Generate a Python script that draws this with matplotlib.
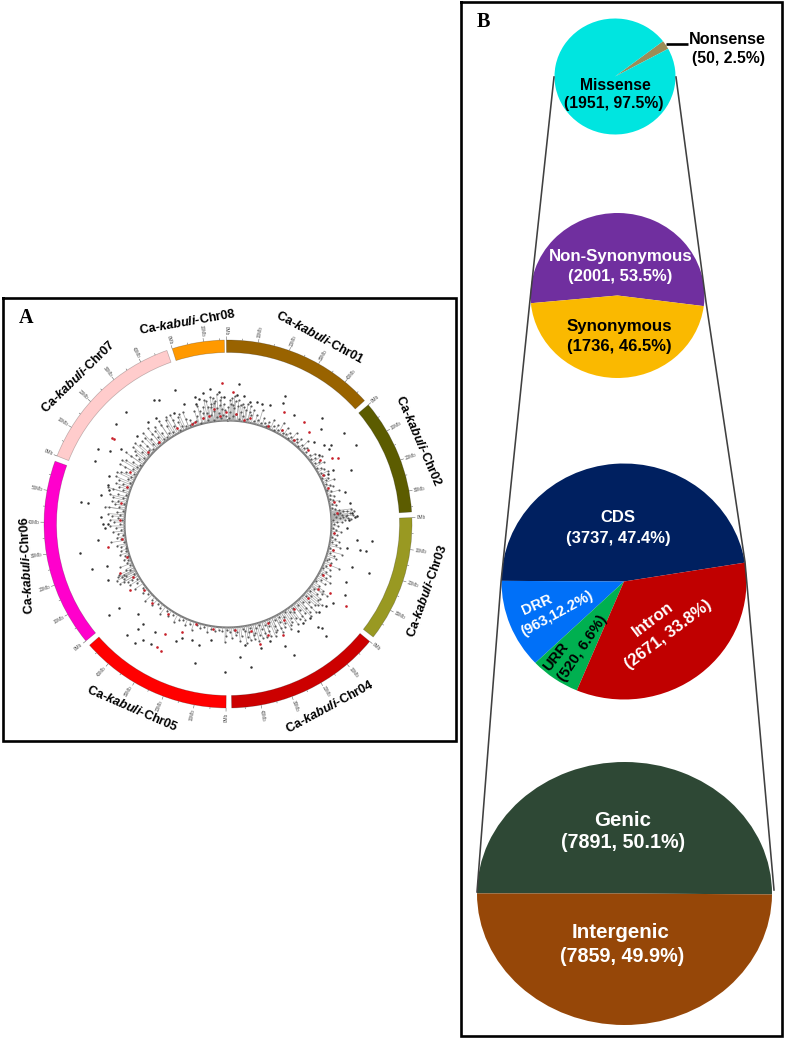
import matplotlib
matplotlib.use("Agg")
import matplotlib.pyplot as plt
import numpy as np

W, H = 787, 1040
plt.rcParams['font.family'] = ['Liberation Sans', 'DejaVu Sans']
plt.rcParams['mathtext.fontset'] = 'custom'
plt.rcParams['mathtext.rm'] = 'Liberation Sans:bold'
plt.rcParams['mathtext.it'] = 'Liberation Sans:italic:bold'
plt.rcParams['mathtext.bf'] = 'Liberation Sans:bold'

# ---------- data: panel A ----------
chr_names = ['Chr01', 'Chr02', 'Chr03', 'Chr04', 'Chr05', 'Chr06', 'Chr07', 'Chr08']
chr_lengths = [48.4, 36.6, 39.9, 49.2, 48.2, 59.4, 48.9, 16.5]
chr_colors = ['#996300', '#5C5C00', '#999922', '#CC0000', '#FF0000', '#FF00CC', '#FFCCCC', '#FF9900']

# (angle on the circle in degrees, radial height)
outlier_snps = [
    (349.3,133),(352.4,136),(338.4,144),(329.3,144),(331,142),(317.7,151),(311.7,150),(300,150),
    (301.9,139),(295.5,147),(278.4,149),(278.4,142),(288,126),(286,124),(4.6,140),(4.2,129),
    (24,140),(24.3,133),(19.4,126),(15.6,125),(13.3,125),(31.1,127),(41.6,142),(44.6,133),
    (52,147),(58.3,150),(52.7,130),(66.2,134),(74.5,121),(86.3,129),(80.4,124),(46.4,119),
    (53.4,126),(50.5,124),(52.6,114),(62.9,118),(63.2,112),(96.6,145),(100.9,141),(101.1,135),
    (97,130),(109.4,149),(109,131),(101.6,121),(92,119),(121,137),(116.3,132),(127,132),
    (139,149),(138.7,137),(138,140),(155,135),(153.4,147),(175,134),(170.8,145),(139,125),
    (181,148),(193.3,143),(193.3,124),(188.5,117),(197.4,122),(202,123),(212.6,143),(216,144),
    (218,151),(222.4,150),(220.7,138),(220.4,131),(232.5,150),(232.4,138),(225,127),(251.6,143),
    (259.1,151),(245,132),(263,131),(270,125),(270,120),(273,127),(251,128),(340,128),
    (345,124),(347,128),(356,132),(358,127),(7,129),(10,124),(345.5,131),(322,130),(326,128),
    (334,124),(314,127),(305,131),(292,128),(283,130),(268,123),(85,124),(87,127),(88,121),
    (130,128),(134,126),(143,124),(147,128),(160,124),(165,128),(172,122),(204,128),(214,130),
]
red_snps = [
    (357.4,141),(306.6,145),(306.6,142),(2,132),(26.4,125),(36.6,127),(59.2,128),(57.6,123),
    (41.3,123),(124.8,144),(124.2,123),(165,124),(153.5,124),(160,118),(207.8,144),(210.2,142),
    (209.8,127),(203,117),(245.7,118),(236,118),(259,122),
    (350,110),(353,116),(356,108),(359,112),(12,108),(22,106),(30,108),(38,107),(47,109),(55,112),
    (63,107),(70,106),(78,108),(84,110),(95,106),(104,108),(112,110),(118,108),(126,111),(133,109),
    (142,108),(150,111),(158,107),(168,109),(176,106),(188,106),(198,105),(214,108),(224,110),
    (232,107),(241,109),(252,106),(262,107),(272,108),(281,109),(290,107),(298,111),(312,108),
    (320,107),(332,109),(342,107),(347,109),(340,106),(4,110),(9,105),
]
dense_snps = [
    (343,108),(344,112),(345,105),(346,116),(347,109),(348,120),(349,106),(349.5,113),(350,125),(351,110),
    (351.5,118),(352,128),(352.5,105),(353,114),(353.5,122),(354,108),(354.5,117),(355,130),(355.5,111),
    (356,106),(356.5,124),(357,115),(357.5,109),(358,120),(359,108),(0.5,106),(1,112),(1.5,120),(2,126),
    (2.5,108),(3,116),(3.5,123),(4,110),(5,118),(6,106),(6.5,113),(7,121),(8,109),(9,115),(10,107),(11,120),
    (12,111),(13,117),(14,106),(15,113),(16,108),(17,119),(18,106),(19,112),(20,108),(21,105),(22,110),
    (23,106),(24,114),(25,108),(26,105),(27,111),(28,107),(29,116),(30,108),(31,106),(32,113),(33,107),
    (34,110),(35,105),(36,108),(37,114),(38,106),(39,110),(40,107),(41,112),(42,105),(43,108),(44,115),
    (45,107),(46,110),(47,106),(50,107),(51,112),(52,105),(53,109),(54,116),(55,106),(56,110),(57,114),
    (58,105),(59,108),(60,111),(61,106),(62,113),(63,108),(64,105),(65,110),(66,107),(67,115),(68,106),
    (69,109),(70,112),(71,105),(72,108),(73,116),(74,106),(75,110),(76,105),(77,108),(78,113),(79,106),
    (80,110),(81,105),(82,108),(83,112),(83.5,116),(84,120),(84.5,106),(85,110),(85.5,114),(86,118),
    (86.5,108),(87,112),(87.5,123),(88,105),(89,109),(90,106),(91,110),(92,105),(93,108),(94,113),(95,106),
    (96,110),(97,105),(98,108),(99,112),(100,106),(101,110),(102,115),(103,105),(104,108),(105,118),
    (106,106),(107,111),(108,114),(109,107),(110,105),(111,110),(112,120),(113,107),(114,112),(115,105),
    (116,109),(117,115),(118,106),(119,112),(120,118),(121,108),(122,114),(123,105),(124,110),(125,116),
    (126,122),(127,108),(128,113),(129,106),(130,118),(131,110),(132,121),(133,106),(134,113),(135,118),
    (136,108),(137,115),(138,124),(139,107),(140,112),(141,118),(142,106),(143,110),(144,116),(145,108),
    (146,113),(147,105),(148,119),(149,109),(150,114),(151,106),(152,111),(153,117),(154,107),(155,112),
    (156,118),(157,106),(158,110),(159,115),(160,107),(161,120),(162,110),(163,106),(164,115),(165,108),
    (166,112),(167,118),(168,106),(169,110),(170,115),(171,108),(172,106),(173,113),(174,118),(175,108),
    (176,111),(177,106),(178,114),(179,108),(180.5,106),(181,112),(181.5,118),(183,107),(185,106),(187,108),
    (189,106),(191,110),(193,106),(195,108),(197,106),(199,112),(201,107),(203,110),(205,106),(207,108),
    (209,112),(211,106),(213,110),(215,106),(217,113),(219,108),(221,106),(223,111),(225,107),(227,113),
    (229,106),(231,110),(233,106),(235,113),(237,108),(238,116),(239,106),(240,111),(241,119),(242,107),
    (243,114),(244,122),(245,108),(246,112),(247,106),(248,116),(249,108),(250,106),(251,110),(252,105),
    (253,108),(254,112),(255,106),(256,110),(257,105),(258,109),(259,113),(260,106),(261,118),(262,108),
    (263,112),(264,106),(265,110),(266,115),(267,107),(268,112),(269,118),(270,108),(271,114),(272,106),
    (273,110),(274,116),(275,108),(276,112),(277,106),(278,120),(279,110),(280,115),(281,106),(282,112),
    (283,118),(284,108),(285,114),(286,106),(287,120),(288,110),(289,115),(290,107),(291,112),(292,118),
    (293,106),(294,110),(295,122),(296,108),(297,114),(298,106),(299,118),(300,110),(301,124),(302,107),
    (303,113),(304,106),(305,119),(306,110),(307,115),(308,107),(309,122),(310,112),(311,106),(312,118),
    (313,108),(314,113),(315,106),(316,120),(317,110),(318,115),(319,107),(320,125),(321,112),(322,118),
    (323,107),(324,113),(325,106),(326,120),(327,109),(328,116),(329,107),(330,124),(331,112),(332,118),
    (333,106),(334,113),(335,108),(336,120),(337,107),(338,113),(339,106),(340,111),(341,107),
    # second pass over the heaviest clusters
    (343.5,118),(345.5,122),(347.5,114),(349,126),(350.5,119),(352,121),(353,127),(354,124),(356,119),
    (357,127),(358.5,114),(0,117),(1,124),(2.5,119),(3,128),(5,124),(6,120),(8,118),(9.5,122),(11,114),
    (83,124),(84,127),(84.5,113),(85,122),(85.5,119),(86,125),(86.5,115),(87,120),(88,117),(89,114),
    (126.5,117),(129,119),(131,124),(133,119),(135,125),(137,120),(139,118),(141,123),(143,119),(145,122),
    (147,117),(149,123),(151,118),(153,121),(155,117),(157,122),(159,120),(161,115),(163,119),(165,121),
    (167,114),(169,118),(171,120),(240,115),(241,123),(242,118),(243,125),(243.5,119),(244,116),(245,120),
    (272,118),(275,120),(278,124),(281,118),(284,122),(287,125),(290,119),(293,122),(296,119),(299,124),
    (302,120),(305,125),(308,118),(311,123),(314,119),(317,124),(320,118),(323,122),(326,124),(329,121),
    (332,124),(335,118),(338,121),
]

# ---------- data: panel B ----------
missense_vals = [50, 1951]
missense_colors = ['#9C8C57', '#00E5E0']
coding_vals = [2001, 1736]
coding_colors = ['#702F9F', '#FAB900']
genic_parts_vals = [3737, 963, 520, 2671]
genic_parts_colors = ['#002060', '#0070F8', '#00B050', '#C00000']
genome_vals = [7891, 7859]
genome_colors = ['#2E4835', '#964708']

fig = plt.figure(figsize=(W / 100, H / 100), dpi=100, facecolor='white')


def px_axes(cx, cy, rx, ry, **kw):
    return fig.add_axes([(cx - rx) / W, (H - cy - ry) / H, 2 * rx / W, 2 * ry / H], **kw)


def draw_pie(vals, colors, start, cx, cy, rx, ry):
    a = px_axes(cx, cy, rx, ry)
    a.pie(vals, colors=colors, startangle=start, counterclock=True, radius=1, center=(0, 0),
          wedgeprops=dict(linewidth=0))
    a.set_aspect('auto')
    a.set_xlim(-1, 1)
    a.set_ylim(-1, 1)
    a.axis('off')


# ---------- panel A: circular genome ----------
RMAX = 200
pol = px_axes(228, 524, RMAX, RMAX, projection='polar')
pol.set_theta_zero_location('N')
pol.set_theta_direction(-1)
pol.set_ylim(0, RMAX)
pol.axis('off')
pol.patch.set_alpha(0)

GAP = 1.75
R_IN, R_OUT = 171.5, 184
pos = -0.5
for name, length, col in zip(chr_names, chr_lengths, chr_colors):
    pol.bar(np.deg2rad(pos + length / 2), R_OUT - R_IN, width=np.deg2rad(length), bottom=R_IN,
            color=col, edgecolor='#00000040', linewidth=0.5)
    for mb in np.arange(0, length, 5):
        th = np.deg2rad(pos + mb)
        major = mb % 10 == 0
        pol.plot([th, th], [R_OUT, R_OUT + (3.5 if major else 1.8)], color='#666666', lw=0.4,
                 solid_capstyle='butt', clip_on=False)
        if major:
            deg = pos + mb
            right = (deg % 360) < 180
            pol.text(th, R_OUT + 4.5, f'{int(mb)}Mb', fontsize=3.4, color='#555555',
                     rotation=(90 - deg) if right else (270 - deg), rotation_mode='anchor',
                     ha='left' if right else 'right', va='center', clip_on=False)
    pos += length + GAP

ring_theta = np.deg2rad(np.arange(0, 361, 1))
pol.plot(ring_theta, np.full_like(ring_theta, 103.5), color='#7C7C7C', lw=1.5, zorder=2)

# faint stems under the dense points
for a_deg, r in dense_snps:
    th = np.deg2rad(a_deg)
    pol.plot([th, th], [103.5, r], color='#A8A8A8', lw=0.5, zorder=2, solid_capstyle='butt')

for pts, col, size, z in [(dense_snps, '#5A5A5A', 2.4, 3), (outlier_snps, '#333333', 3.2, 3),
                          (red_snps, '#C8202A', 3.6, 4)]:
    ang = np.deg2rad([p[0] for p in pts])
    rad = [p[1] for p in pts]
    pol.scatter(ang, rad, s=size, color=col, linewidths=0, zorder=z)

# ---------- panel B: pies ----------
draw_pie(missense_vals, missense_colors, 28.5, 615, 76.5, 60.5, 58)
draw_pie(coding_vals, coding_colors, -7.4, 617.5, 295.5, 87, 82.5)
draw_pie(genic_parts_vals, genic_parts_colors, 9.2, 624, 581.5, 122.5, 118)
draw_pie(genome_vals, genome_colors, -0.4, 624.5, 893.5, 147.5, 131.5)

# ---------- overlay in pixel coordinates ----------
ov = fig.add_axes([0, 0, 1, 1], facecolor='none')
ov.set_xlim(0, W)
ov.set_ylim(H, 0)
ov.axis('off')

for x0, y0, x1, y1 in [(3, 298, 456, 741), (461, 2, 782, 1036)]:
    ov.plot([x0, x1, x1, x0, x0], [y0, y0, y1, y1, y0], color='black', lw=1.9, solid_joinstyle='miter')

ov.text(26, 318, 'A', family='Liberation Serif', weight='bold', fontsize=14.5, ha='center', va='center')
ov.text(483, 22, 'B', family='Liberation Serif', weight='bold', fontsize=14.5, ha='center', va='center')

chr_label_spots = [(320, 337, -28.3), (419, 441, -66.5), (427, 591, 70.3), (330, 707, 28.3),
                   (132, 709, -23.5), (27, 565, 93), (78, 377, 44.3), (188, 322, 10)]
for name, (x, y, rot) in zip(chr_names, chr_label_spots):
    ov.text(x, y, r'Ca-$\mathit{kabuli}$-' + name, fontsize=9.1, weight='bold', rotation=rot,
            rotation_mode='anchor', ha='center', va='center')

connectors = [[(554, 77), (530, 300), (501, 582), (477, 892)],
              [(676, 77), (706, 302), (745, 562), (774, 890)]]
for seg in connectors:
    ov.plot([p[0] for p in seg], [p[1] for p in seg], color='#404040', lw=1.15, zorder=1)

ov.plot([666, 688], [43.7, 43.7], color='black', lw=1.9, solid_capstyle='butt')

pie_labels = [
    ('Nonsense', 727, 40, 11.6, 'black', 0),
    ('(50, 2.5%)', 728, 59, 11.3, 'black', 0),
    ('Missense', 615, 85, 11.3, 'black', 0),
    ('(1951, 97.5%)', 613.5, 103.5, 11.3, 'black', 0),
    ('Non-Synonymous', 621, 257, 12.2, 'white', 0),
    ('(2001, 53.5%)', 620, 277, 12, 'white', 0),
    ('Synonymous', 619, 326, 12.2, 'black', 0),
    ('(1736, 46.5%)', 619, 346, 12, 'black', 0),
    ('CDS', 618, 518, 12, 'white', 0),
    ('(3737, 47.4%)', 618, 538, 12, 'white', 0),
    ('DRR', 537, 605, 10.6, 'white', 24),
    ('(963,12.2%)', 557, 614, 10.6, 'white', 28.7),
    ('URR', 555.5, 657, 10.7, 'black', 52),
    ('(520, 6.6%)', 583, 648, 10.7, 'black', 56),
    ('Intron', 653, 619, 12, 'white', 37),
    ('(2671, 33.8%)', 668, 635, 12, 'white', 37),
    ('Genic', 623, 820, 14.8, 'white', 0),
    ('(7891, 50.1%)', 623, 843, 14.2, 'white', 0),
    ('Intergenic', 621, 933, 14.8, 'white', 0),
    ('(7859, 49.9%)', 622, 957, 14.2, 'white', 0),
]
for txt, x, y, fs, col, rot in pie_labels:
    ov.text(x, y, txt, fontsize=fs, color=col, weight='bold', rotation=rot, rotation_mode='anchor',
            ha='center', va='center')

fig.savefig('out.png', dpi=100, facecolor='white')
